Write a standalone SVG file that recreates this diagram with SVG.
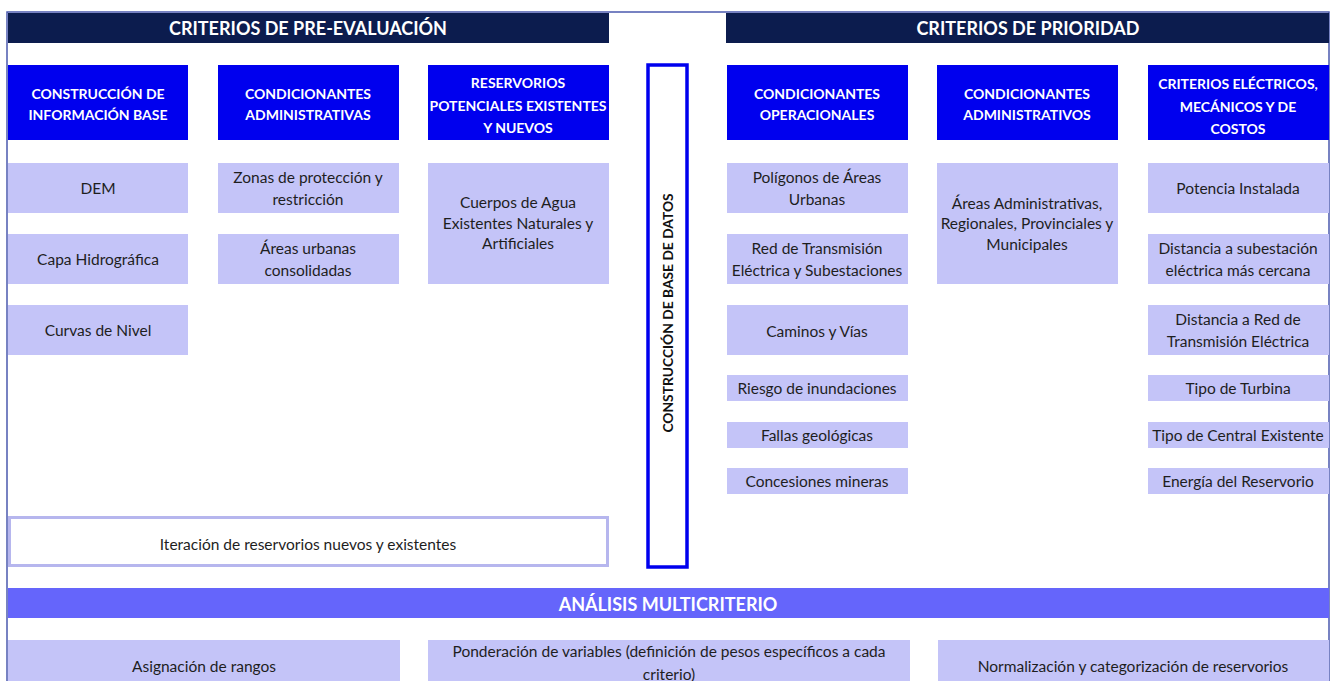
<svg xmlns="http://www.w3.org/2000/svg" width="1335" height="681" viewBox="0 0 1335 681">
  <style>
    .frame { fill: none; stroke: #4b5aae; stroke-width: 1.5; }
    .navy { fill: #0c1c4e; }
    .blue { fill: #0000ee; }
    .lav { fill: #c4c4f8; }
    .band { fill: #6565fb; }
    .title { font-family: Lato, "Open Sans", sans-serif; font-weight: 700; font-size: 18px; fill: #ffffff; text-anchor: middle; dominant-baseline: central; }
    .head { font-family: Lato, "Open Sans", sans-serif; font-weight: 700; font-size: 14px; fill: #ffffff; text-anchor: middle; dominant-baseline: central; }
    .item { font-family: Lato, "Open Sans", sans-serif; font-size: 15.5px; fill: #1e1e1e; text-anchor: middle; dominant-baseline: central; }
    .vert { font-family: Lato, "Open Sans", sans-serif; font-weight: 700; font-size: 13.8px; fill: #111111; text-anchor: middle; dominant-baseline: central; }
  </style>

  <rect width="1335" height="681" fill="#ffffff"/>

  <!-- outer frame: top edge and both sides -->
  <path class="frame" d="M7 681 V12 H1329 V681"/>

  <!-- section titles -->
  <g id="title-pre-evaluacion">
    <rect class="navy" x="8" y="13" width="601" height="30"/>
    <text class="title" x="308" y="28">CRITERIOS DE PRE-EVALUACIÓN</text>
  </g>
  <g id="title-prioridad">
    <rect class="navy" x="726" y="13" width="603" height="30"/>
    <text class="title" x="1028" y="28">CRITERIOS DE PRIORIDAD</text>
  </g>

  <!-- column headers -->
  <g id="head-informacion-base">
    <rect class="blue" x="8" y="65" width="180" height="75"/>
    <text class="head" x="98" y="93">CONSTRUCCIÓN DE</text>
    <text class="head" x="98" y="114">INFORMACIÓN BASE</text>
  </g>
  <g id="head-cond-administrativas">
    <rect class="blue" x="218" y="65" width="181" height="75"/>
    <text class="head" x="308" y="93">CONDICIONANTES</text>
    <text class="head" x="308" y="114">ADMINISTRATIVAS</text>
  </g>
  <g id="head-reservorios">
    <rect class="blue" x="428" y="65" width="181" height="75"/>
    <text class="head" x="518" y="82">RESERVORIOS</text>
    <text class="head" x="518" y="105">POTENCIALES EXISTENTES</text>
    <text class="head" x="518" y="127">Y NUEVOS</text>
  </g>
  <g id="head-cond-operacionales">
    <rect class="blue" x="727" y="65" width="181" height="75"/>
    <text class="head" x="817" y="93">CONDICIONANTES</text>
    <text class="head" x="817" y="114">OPERACIONALES</text>
  </g>
  <g id="head-cond-administrativos">
    <rect class="blue" x="937" y="65" width="181" height="75"/>
    <text class="head" x="1027" y="93">CONDICIONANTES</text>
    <text class="head" x="1027" y="114">ADMINISTRATIVOS</text>
  </g>
  <g id="head-criterios-electricos">
    <rect class="blue" x="1148" y="65" width="181" height="75"/>
    <text class="head" x="1238" y="83">CRITERIOS ELÉCTRICOS,</text>
    <text class="head" x="1238" y="106">MECÁNICOS Y DE</text>
    <text class="head" x="1238" y="128">COSTOS</text>
  </g>

  <!-- database construction column -->
  <g id="base-de-datos">
    <rect x="648" y="65" width="39" height="502" fill="#ffffff" stroke="#0000ee" stroke-width="3.5"/>
    <text class="vert" transform="translate(667 313) rotate(-90)">CONSTRUCCIÓN DE BASE DE DATOS</text>
  </g>

  <!-- pre-evaluation items -->
  <g id="dem">
    <rect class="lav" x="8" y="163" width="180" height="50"/>
    <text class="item" x="98" y="188">DEM</text>
  </g>
  <g id="capa-hidrografica">
    <rect class="lav" x="8" y="234" width="180" height="50"/>
    <text class="item" x="98" y="259">Capa Hidrográfica</text>
  </g>
  <g id="curvas-nivel">
    <rect class="lav" x="8" y="305" width="180" height="50"/>
    <text class="item" x="98" y="330">Curvas de Nivel</text>
  </g>
  <g id="zonas-proteccion">
    <rect class="lav" x="218" y="163" width="181" height="50"/>
    <text class="item" x="308" y="177">Zonas de protección y</text>
    <text class="item" x="308" y="199">restricción</text>
  </g>
  <g id="areas-urbanas">
    <rect class="lav" x="218" y="234" width="181" height="50"/>
    <text class="item" x="308" y="248">Áreas urbanas</text>
    <text class="item" x="308" y="270">consolidadas</text>
  </g>
  <g id="cuerpos-agua">
    <rect class="lav" x="428" y="163" width="181" height="121"/>
    <text class="item" x="518" y="202">Cuerpos de Agua</text>
    <text class="item" x="518" y="223">Existentes Naturales y</text>
    <text class="item" x="518" y="243">Artificiales</text>
  </g>

  <!-- priority items -->
  <g id="poligonos-urbanos">
    <rect class="lav" x="727" y="163" width="181" height="50"/>
    <text class="item" x="817" y="177">Polígonos de Áreas</text>
    <text class="item" x="817" y="199">Urbanas</text>
  </g>
  <g id="red-transmision">
    <rect class="lav" x="727" y="234" width="181" height="50"/>
    <text class="item" x="817" y="248">Red de Transmisión</text>
    <text class="item" x="817" y="270">Eléctrica y Subestaciones</text>
  </g>
  <g id="caminos-vias">
    <rect class="lav" x="727" y="305" width="181" height="50"/>
    <text class="item" x="817" y="331">Caminos y Vías</text>
  </g>
  <g id="riesgo-inundaciones">
    <rect class="lav" x="727" y="375" width="181" height="26"/>
    <text class="item" x="817" y="388">Riesgo de inundaciones</text>
  </g>
  <g id="fallas-geologicas">
    <rect class="lav" x="727" y="422" width="181" height="26"/>
    <text class="item" x="817" y="435">Fallas geológicas</text>
  </g>
  <g id="concesiones-mineras">
    <rect class="lav" x="727" y="468" width="181" height="26"/>
    <text class="item" x="817" y="481">Concesiones mineras</text>
  </g>
  <g id="areas-administrativas">
    <rect class="lav" x="937" y="163" width="181" height="121"/>
    <text class="item" x="1027" y="203">Áreas Administrativas,</text>
    <text class="item" x="1027" y="223">Regionales, Provinciales y</text>
    <text class="item" x="1027" y="244">Municipales</text>
  </g>
  <g id="potencia-instalada">
    <rect class="lav" x="1148" y="163" width="181" height="50"/>
    <text class="item" x="1238" y="188">Potencia Instalada</text>
  </g>
  <g id="distancia-subestacion">
    <rect class="lav" x="1148" y="234" width="181" height="50"/>
    <text class="item" x="1238" y="248">Distancia a subestación</text>
    <text class="item" x="1238" y="270">eléctrica más cercana</text>
  </g>
  <g id="distancia-red">
    <rect class="lav" x="1148" y="305" width="181" height="50"/>
    <text class="item" x="1238" y="319">Distancia a Red de</text>
    <text class="item" x="1238" y="341">Transmisión Eléctrica</text>
  </g>
  <g id="tipo-turbina">
    <rect class="lav" x="1148" y="375" width="181" height="26"/>
    <text class="item" x="1238" y="388">Tipo de Turbina</text>
  </g>
  <g id="tipo-central">
    <rect class="lav" x="1148" y="422" width="181" height="26"/>
    <text class="item" x="1238" y="435">Tipo de Central Existente</text>
  </g>
  <g id="energia-reservorio">
    <rect class="lav" x="1148" y="468" width="181" height="26"/>
    <text class="item" x="1238" y="481">Energía del Reservorio</text>
  </g>

  <!-- iteration of reservoirs -->
  <g id="iteracion">
    <rect x="9.5" y="517.5" width="598" height="48" fill="#ffffff" stroke="#b6b6ee" stroke-width="3"/>
    <text class="item" x="308" y="544">Iteración de reservorios nuevos y existentes</text>
  </g>

  <!-- multicriteria analysis -->
  <g id="analisis-multicriterio">
    <rect class="band" x="8" y="588" width="1321" height="30"/>
    <text class="title" x="668" y="604">ANÁLISIS MULTICRITERIO</text>
  </g>
  <g id="asignacion-rangos">
    <rect class="lav" x="8" y="640" width="392" height="50"/>
    <text class="item" x="204" y="666">Asignación de rangos</text>
  </g>
  <g id="ponderacion">
    <rect class="lav" x="428" y="640" width="482" height="50"/>
    <text class="item" x="669" y="651">Ponderación de variables (definición de pesos específicos a cada</text>
    <text class="item" x="669" y="674">criterio)</text>
  </g>
  <g id="normalizacion">
    <rect class="lav" x="938" y="640" width="391" height="50"/>
    <text class="item" x="1133" y="666">Normalización y categorización de reservorios</text>
  </g>

  <!-- no connecting lines in this layout -->
  <g id="connectors"/>
</svg>
